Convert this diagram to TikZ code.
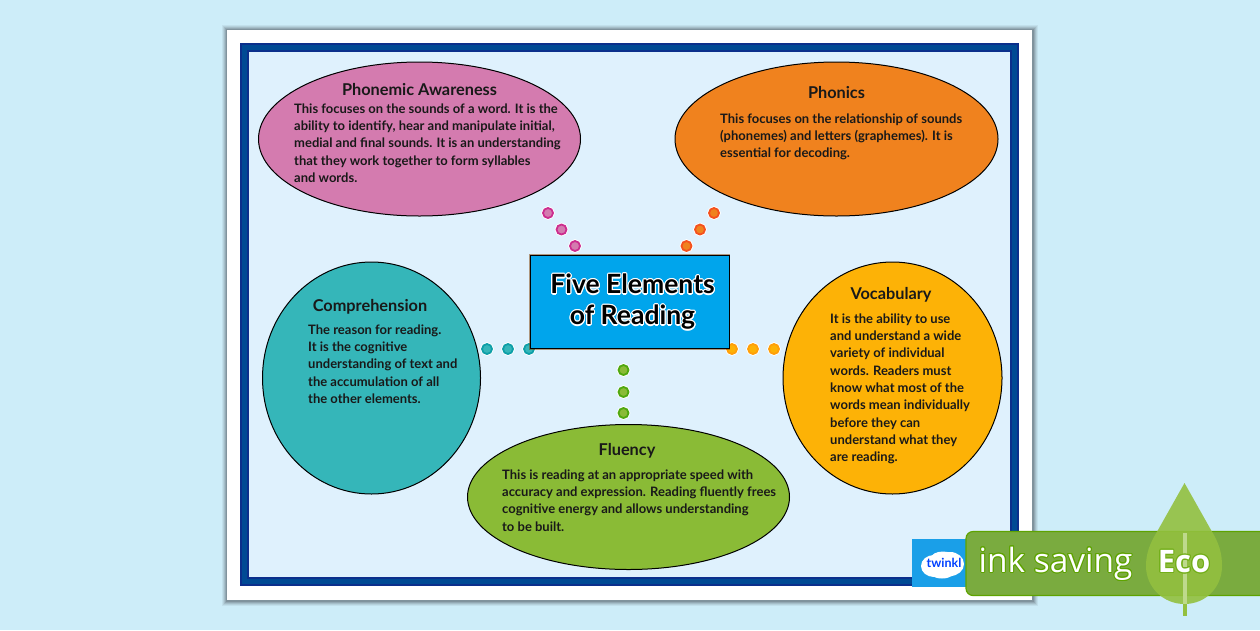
\documentclass[tikz,border=0pt]{standalone}
\usepackage{fontspec}
\usepackage[copies]{contour}
\setmainfont{Lato}
\newfontfamily\ecofont{Open Sans}
\usetikzlibrary{shapes.geometric}
\definecolor{pagebg}{HTML}{CDEDF9}
\definecolor{innerbg}{HTML}{DFF1FD}
\definecolor{navy}{HTML}{004A94}
\definecolor{navyd}{HTML}{0B2F8C}
\definecolor{pinkf}{HTML}{D47BAF}
\definecolor{pinkr}{HTML}{CC2D8F}
\definecolor{orangef}{HTML}{F0821E}
\definecolor{oranger}{HTML}{F4511E}
\definecolor{tealf}{HTML}{35B6B9}
\definecolor{tealr}{HTML}{0E9FA8}
\definecolor{yellowf}{HTML}{FDB206}
\definecolor{yellowr}{HTML}{FF9F0A}
\definecolor{greenf}{HTML}{8ABB36}
\definecolor{greenr}{HTML}{4FA80E}
\definecolor{boxblue}{HTML}{00A5EC}
\definecolor{band}{HTML}{7AAB3F}
\definecolor{bandr}{HTML}{5EA300}
\definecolor{leaf}{HTML}{93C03F}
\definecolor{tblue}{HTML}{1A9FE8}
\contournumber{16}
\contourlength{1.1pt}
\tikzset{
  blob/.style={ellipse,draw=black,line width=1pt,inner sep=0pt,minimum width=#1},
  head/.style={inner sep=0pt,font=\fontsize{16.3}{18}\selectfont\bfseries,text=black!90},
  body/.style={inner sep=0pt,anchor=north west,align=left,font=\fontsize{13}{17.3}\selectfont\bfseries,text=black!90},
  dotp/.style 2 args={circle,inner sep=0pt,minimum size=10pt,fill=#1,draw=#2,line width=1.8pt,
    preaction={draw=white,line width=3.5pt}},
}
\begin{document}
\begin{tikzpicture}[x=1pt,y=-1pt]
\useasboundingbox (0,0) rectangle (1260,630);
\fill[pagebg] (0,0) rectangle (1260,630);
% page shadow
\foreach \g/\o in {5/.08,4/.10,3/.14,2/.18,1/.24}
  \fill[black!75!cyan,opacity=\o] (227-\g,30-\g) rectangle (1032+\g+1,600+\g+1);
\fill[white] (227,30) rectangle (1032,600);
\fill[navy] (240,43) rectangle (1019,586);
\draw[navyd,line width=1.6pt] (240.8,43.8) rectangle (1018.2,585.2);
\fill[innerbg] (248,51) rectangle (1011,578);
\draw[navyd,line width=1.2pt] (248,51) rectangle (1011,578);
% ellipses
\node[blob=322pt,minimum height=154pt,fill=pinkf] (pa) at (419.5,139) {};
\node[blob=323pt,minimum height=154pt,fill=orangef] (ph) at (836.5,139) {};
\node[blob=218pt,minimum height=232pt,fill=tealf] (co) at (371.5,378) {};
\node[blob=219pt,minimum height=232pt,fill=yellowf] (vo) at (892.5,378) {};
\node[blob=322pt,minimum height=145pt,fill=greenf] (fl) at (628.5,497) {};
% dots
\node[dotp={pinkf}{pinkr}] (p1) at (548,213) {};
\node[dotp={pinkf}{pinkr}] (p2) at (561.5,229.5) {};
\node[dotp={pinkf}{pinkr}] (p3) at (575,246) {};
\node[dotp={orangef}{oranger}] (o1) at (714,213) {};
\node[dotp={orangef}{oranger}] (o2) at (700,229.5) {};
\node[dotp={orangef}{oranger}] (o3) at (686.5,246) {};
\node[dotp={tealf}{tealr}] (t1) at (487,349) {};
\node[dotp={tealf}{tealr}] (t2) at (508,349) {};
\node[dotp={tealf}{tealr}] (t3) at (529,349) {};
\node[dotp={yellowf}{yellowr}] (y1) at (732,349) {};
\node[dotp={yellowf}{yellowr}] (y2) at (753,349) {};
\node[dotp={yellowf}{yellowr}] (y3) at (774,349) {};
\node[dotp={greenf}{greenr}] (g1) at (623.5,370) {};
\node[dotp={greenf}{greenr}] (g2) at (623.5,392) {};
\node[dotp={greenf}{greenr}] (g3) at (623.5,413) {};
% centre box
\fill[black!50!orange,opacity=.5] (529,254) rectangle (730,349.5);
\node[draw=black,line width=1pt,fill=boxblue,minimum width=199pt,minimum height=93pt,inner sep=0pt] (ct) at (629.5,301.5) {};
\node[inner sep=0pt,font=\fontsize{26.5}{31}\selectfont\bfseries,align=center] (tt) at (632.5,302.5)
  {\contour{white}{Five Elements}\\\contour{white}{of Reading}};
% texts
\node[head] (h1) at (419.5,89.5) {Phonemic Awareness};
\node[body] (b1) at (294,103.5) {This focuses on the sounds of a word. It is the\\ability to identify, hear and manipulate initial,\\medial and final sounds. It is an understanding\\that they work together to form syllables\\and words.};
\node[head] (h2) at (836.5,92.5) {Phonics};
\node[body] (b2) at (720,113.5) {This focuses on the relationship of sounds\\(phonemes) and letters (graphemes). It is\\essential for decoding.};
\node[head] (h3) at (370,306.5) {Comprehension};
\node[body] (b3) at (308,324.5) {The reason for reading.\\It is the cognitive\\understanding of text and\\the accumulation of all\\the other elements.};
\node[head] (h4) at (891,295) {Vocabulary};
\node[body] (b4) at (830,313.5) {It is the ability to use\\and understand a wide\\variety of individual\\words. Readers must\\know what most of the\\words mean individually\\before they can\\understand what they\\are reading.};
\node[head] (h5) at (627,450.5) {Fluency};
\node[body] (b5) at (502,469.5) {This is reading at an appropriate speed with\\accuracy and expression. Reading fluently frees\\cognitive energy and allows understanding\\to be built.};
% twinkl badge
\fill[tblue] (912,539) rectangle (970,587);
\fill[white] (934,566) ellipse (13 and 11) (950,564) ellipse (14 and 12) (942,570) ellipse (14 and 8.5) (943,558) ellipse (12 and 6.5);
\node[inner sep=0pt,font=\fontsize{12.5}{14}\selectfont\bfseries,text=blue!75!cyan] (tw) at (944,563) {twinkl};
% eco band
\filldraw[fill=band,draw=bandr,line width=1.2pt,rounded corners=7pt] (966,531.5) -- (1275,531.5) -- (1275,595.5) -- (966,595.5) -- cycle;
\fill[leaf,opacity=.9] (1184.5,483) -- (1158,530) .. controls (1150,543) and (1146,553) .. (1146,566) .. controls (1146,587) and (1163,604) .. (1184.5,604) .. controls (1206,604) and (1222,587) .. (1222,566) .. controls (1222,553) and (1219,543) .. (1211,530) -- cycle;
\draw[leaf!60!white,line width=4pt] (1185,533) -- (1185,604);
\draw[leaf,line width=4pt] (1185,604) -- (1185,616);
\contourlength{1pt}
\node[inner sep=0pt,font=\ecofont\fontsize{33.4}{40}\selectfont,text=white] (ink) at (1055.5,564) {\contour{bandr}{ink saving}};
\node[inner sep=0pt,font=\ecofont\fontsize{31}{34}\selectfont\bfseries,text=white] (eco) at (1184,562) {\contour{bandr!60!leaf}{Eco}};
\end{tikzpicture}
\end{document}
